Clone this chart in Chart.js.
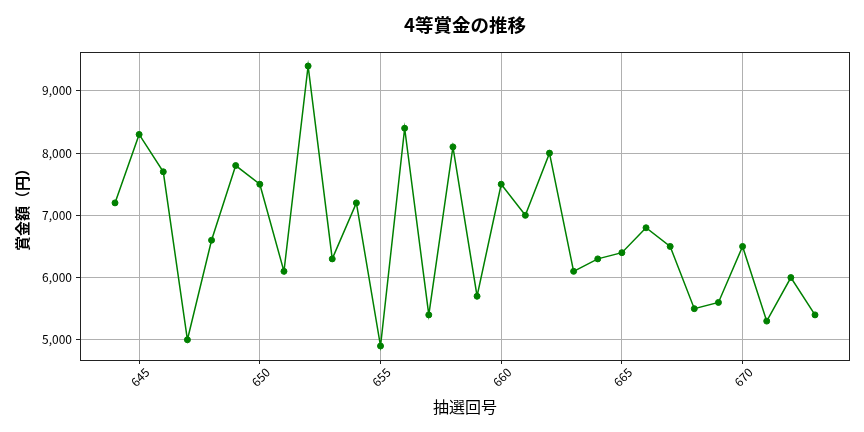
<!DOCTYPE html>
<html>
<head>
<meta charset="utf-8">
<script src="https://cdn.jsdelivr.net/npm/chart.js@4.4.1/dist/chart.umd.min.js"></script>
<style>
  html, body { margin: 0; padding: 0; background: #fff; }
  #wrap { width: 864px; height: 432px; }
</style>
</head>
<body>
<div id="wrap"><canvas id="myChart" width="864" height="432"></canvas></div>
<script>
// 抽選回号と4等賞金
var kaigou = [644, 645, 646, 647, 648, 649, 650, 651, 652, 653,
              654, 655, 656, 657, 658, 659, 660, 661, 662, 663,
              664, 665, 666, 667, 668, 669, 670, 671, 672, 673];
var shoukin = [7200, 8300, 7700, 5000, 6600, 7800, 7500, 6100, 9400, 6300,
               7200, 4900, 8400, 5400, 8100, 5700, 7500, 7000, 8000, 6100,
               6300, 6400, 6800, 6500, 5500, 5600, 6500, 5300, 6000, 5400];
var xTicks = [645, 650, 655, 660, 665, 670];
var yTicks = [5000, 6000, 7000, 8000, 9000];

var fontName = "'Noto Sans CJK JP', 'Noto Sans', sans-serif";

var points = [];
for (var i = 0; i < kaigou.length; i++) {
    points.push({x: kaigou[i], y: shoukin[i]});
}

// 枠線（matplotlib風に四辺）
var frame = {
    id: 'frame',
    afterDatasetsDraw: function(chart) {
        var a = chart.chartArea;
        var ctx = chart.ctx;
        ctx.save();
        ctx.strokeStyle = '#222';
        ctx.lineWidth = 1;
        ctx.strokeRect(a.left + 0.5, a.top + 0.5, a.right - a.left - 1, a.bottom - a.top);
        ctx.restore();
    }
};

var ctx = document.getElementById("myChart");
var myChart = new Chart(ctx, {
    type: 'line',
    data: {
        datasets: [{
            data: points,
            borderColor: '#008000',
            backgroundColor: '#008000',
            borderWidth: 1.5,
            pointRadius: 3,
            pointBorderWidth: 1,
            pointHoverRadius: 3,
            tension: 0
        }]
    },
    options: {
        responsive: false,
        animation: false,
        layout: {padding: {top: 0, right: 14, left: 0, bottom: 0}},
        plugins: {
            legend: {display: false},
            tooltip: {enabled: false}
        },
        scales: {
            // タイトルはプロット領域の中央に置くため上側の軸タイトルで描く
            top: {
                type: 'linear',
                position: 'top',
                min: 642.55,
                max: 674.45,
                afterFit: function(s) { s.height = 52; },
                ticks: {display: false},
                grid: {display: false},
                border: {display: false},
                title: {
                    display: true,
                    text: '4等賞金の推移',
                    color: '#000',
                    font: {family: fontName, size: 18.5, weight: 'bold', lineHeight: 1.2},
                    padding: {top: 14, bottom: 0}
                }
            },
            x: {
                type: 'linear',
                min: 642.55,
                max: 674.45,
                afterFit: function(s) { s.height = 72; },
                afterBuildTicks: function(s) {
                    s.ticks = xTicks.map(function(v) { return {value: v}; });
                },
                ticks: {
                    color: '#000',
                    font: {family: fontName, size: 12},
                    minRotation: 45,
                    maxRotation: 45,
                    padding: 1,
                    labelOffset: 8,
                    callback: function(v) { return String(v); }
                },
                grid: {color: '#b0b0b0', lineWidth: 1, tickLength: 4, tickColor: '#222'},
                border: {display: false},
                title: {
                    display: true,
                    text: '抽選回号',
                    color: '#000',
                    font: {family: fontName, size: 16, lineHeight: 1.2},
                    padding: {top: 0, bottom: 15.4}
                }
            },
            y: {
                min: 4675,
                max: 9625,
                afterFit: function(s) { s.width = 80; },
                afterBuildTicks: function(s) {
                    s.ticks = yTicks.map(function(v) { return {value: v}; });
                },
                ticks: {
                    color: '#000',
                    font: {family: fontName, size: 12},
                    padding: 4,
                    callback: function(v) { return v.toLocaleString('en-US'); }
                },
                grid: {color: '#b0b0b0', lineWidth: 1, tickLength: 4, tickColor: '#222'},
                border: {display: false},
                title: {
                    display: true,
                    text: '賞金額（円）',
                    color: '#000',
                    font: {family: fontName, size: 15, weight: 'bold', lineHeight: 1.2},
                    padding: {top: 13, bottom: 0}
                }
            }
        }
    },
    plugins: [frame]
});
</script>
</body>
</html>
